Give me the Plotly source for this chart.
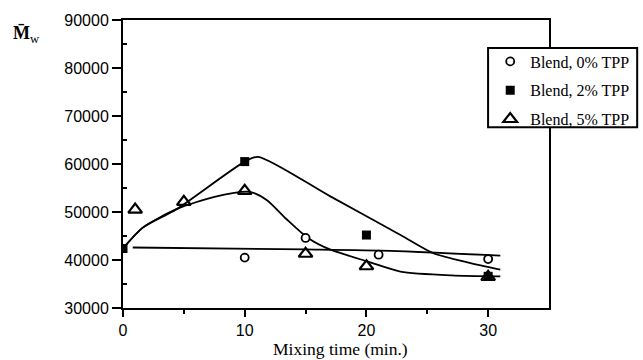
import plotly.graph_objects as go

# Measured weight-average molecular weight vs. mixing time
t_0pct = [10, 15, 21, 30]
mw_0pct = [40500, 44600, 41100, 40200]

t_2pct = [0, 10, 20, 30]
mw_2pct = [42400, 60500, 45200, 36600]

t_5pct = [1, 5, 10, 15, 20, 30]
mw_5pct = [50500, 52100, 54400, 41300, 38700, 36500]

# Hand-drawn trend curves (knot points along each curve)
fit0_t = [0.8, 15, 22, 31]
fit0_mw = [42600, 42200, 41900, 40900]

fit2_t = [0, 1.6, 4.4, 10, 11.1, 17, 22.8, 25.5, 28.3, 31]
fit2_mw = [42400, 46700, 50600, 60500, 61500, 53300, 45200, 41400, 39500, 38000]

fit5_t = [0, 1.6, 4.4, 7.6, 10.4, 11.8, 13.4, 15.2, 17, 20.2, 22.8, 27, 31]
fit5_mw = [42400, 46700, 50600, 53200, 54200, 52500, 48600, 44600, 42200, 39600, 37600, 36800, 36600]

legend_names = ["Blend, 0% TPP", "Blend, 2% TPP", "Blend, 5% TPP"]

serif = "Liberation Serif, Times New Roman, serif"
sans = "Liberation Sans, Arial, sans-serif"

fig = go.Figure()

curve_style = dict(mode="lines", line=dict(color="black", width=1.8, shape="spline", smoothing=0.7),
                   showlegend=False, hoverinfo="skip")
fig.add_trace(go.Scatter(x=fit0_t, y=fit0_mw, **curve_style))
fig.add_trace(go.Scatter(x=fit2_t, y=fit2_mw, **curve_style))
fig.add_trace(go.Scatter(x=fit5_t, y=fit5_mw, **curve_style))

fig.add_trace(go.Scatter(
    x=t_0pct, y=mw_0pct, mode="markers", name=legend_names[0], legendgroup="a",
    marker=dict(symbol="circle", size=8, color="white", line=dict(color="black", width=1.8)),
))
fig.add_trace(go.Scatter(
    x=t_2pct, y=mw_2pct, mode="markers", name=legend_names[1], legendgroup="b",
    marker=dict(symbol="square", size=9, color="black", line=dict(color="black", width=0)),
))
fig.add_trace(go.Scatter(
    x=t_5pct, y=mw_5pct, mode="markers", name=legend_names[2], legendgroup="c",
    marker=dict(symbol="triangle-up-open", size=12, color="black", line=dict(color="black", width=2.2)),
))

fig.update_layout(
    width=643, height=360,
    margin=dict(l=123, r=94, t=20, b=52, autoexpand=False),
    paper_bgcolor="white", plot_bgcolor="white",
    showlegend=True,
    legend=dict(
        x=0.862, y=0.915, xanchor="left", yanchor="top",
        bgcolor="rgba(0,0,0,0)", borderwidth=0,
        font=dict(family=serif, size=16, color="black"),
        tracegroupgap=5, itemsizing="trace",
    ),
    xaxis=dict(
        range=[0, 35], tickvals=[0, 10, 20, 30], ticks="outside", ticklen=7, tickwidth=2,
        tickcolor="black", showline=True, linecolor="black", linewidth=2, mirror=True,
        showgrid=False, zeroline=False, automargin=False,
        tickfont=dict(family=sans, size=16, color="black"),
        minor=dict(tickvals=[5, 15, 25], ticks="outside", ticklen=4, tickwidth=2, tickcolor="black"),
    ),
    yaxis=dict(
        range=[30000, 90000], tickvals=[30000, 40000, 50000, 60000, 70000, 80000, 90000],
        tickformat="d", ticks="outside", ticklen=9, tickwidth=2, tickcolor="black",
        showline=True, linecolor="black", linewidth=2, mirror=True,
        showgrid=False, zeroline=False, automargin=False,
        tickfont=dict(family=sans, size=16, color="black"),
        minor=dict(tickvals=[35000, 45000, 55000, 65000, 75000, 85000], ticks="inside",
                   ticklen=4, tickwidth=2, tickcolor="black"),
    ),
    shapes=[
        # legend frame, opaque so the plot border stops at it
        dict(type="rect", xref="paper", yref="paper", x0=0.857, x1=1.207, y0=0.628, y1=0.9026,
             fillcolor="white", line=dict(color="black", width=2), layer="above"),
    ],
    annotations=[
        dict(text="Mixing time (min.)", xref="paper", yref="paper", x=0.51, y=-0.144,
             xanchor="center", yanchor="middle", showarrow=False,
             font=dict(family=serif, size=17.5, color="black")),
        dict(text="<b>M\u0304</b><sub>w</sub>", xref="paper", yref="paper", x=-0.262, y=0.95,
             xanchor="left", yanchor="middle", showarrow=False,
             font=dict(family=serif, size=18, color="black")),
    ],
)

fig.write_html("out.html")
